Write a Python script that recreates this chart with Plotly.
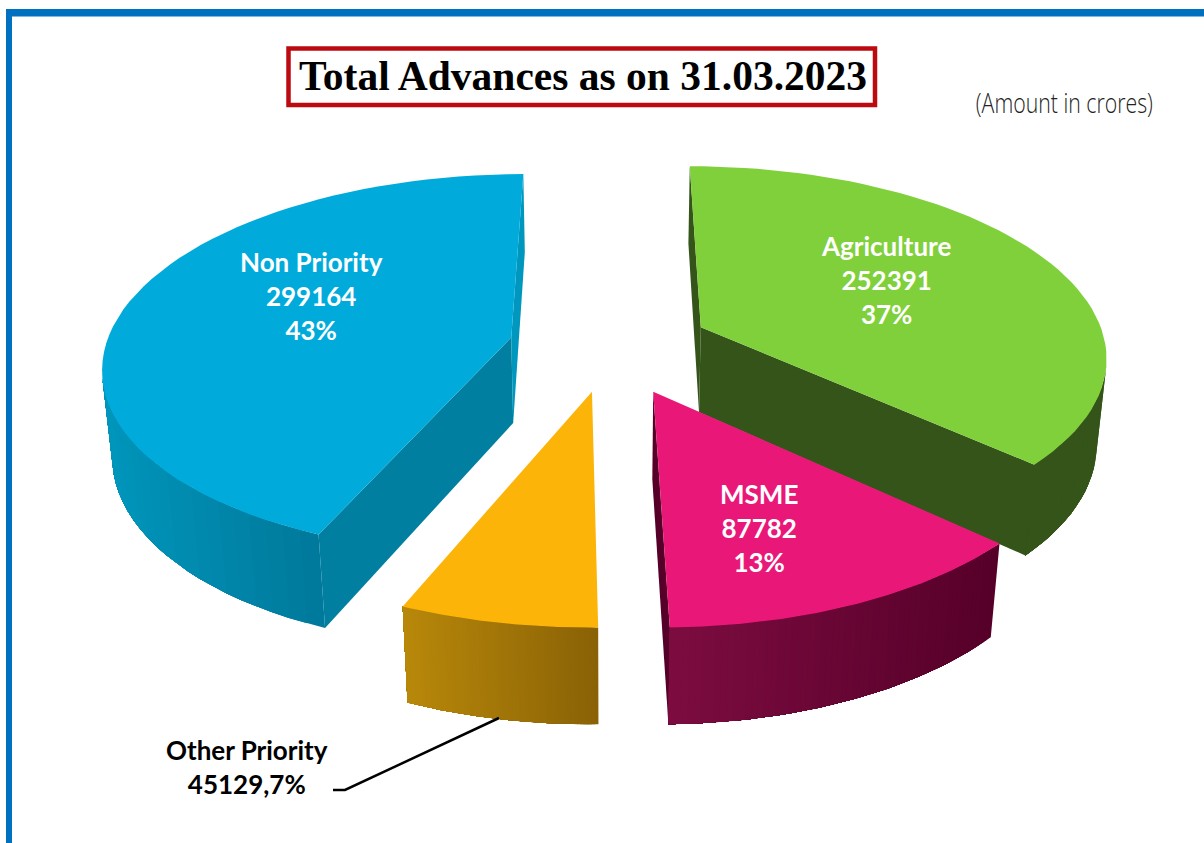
import math
import plotly.graph_objects as go

# ---- data ----
categories = ["Agriculture", "MSME", "Other Priority", "Non Priority"]
values = [252391, 87782, 45129, 299164]
percents = [37, 13, 7, 43]
title_text = "Total Advances as on 31.03.2023"
unit_text = "(Amount in crores)"

# ---- style ----
TOP = ["#7FD03B", "#E91778", "#FDB409", "#00ABDB"]
WALL_L = ["#35541A", "#7C0C40", "#B8880A", "#0096BC"]
WALL_R = ["#35541A", "#560029", "#8A6206", "#007A9C"]
FACE_START = ["#35541A", "#560029", "#8A6206", "#007FA0"]
FACE_END = ["#35541A", "#560029", "#8A6206", "#0097BE"]
EXPLODE = [(0.227, -0.09), (0.103, 0.245), (-0.043, 0.245), (-0.245, -0.035)]
DRAW_ORDER = [0, 3, 2, 1]
CX, CY, A, B, K, H, M = 610, 344, 405, 188, 0.14, 87.5, 0.02


def project(u, v, z):
    w = 1 - K * v + M * z
    return CX + A * u / w, CY + (B * v + H * z) / w


def hex_mix(c1, c2, t):
    a = [int(c1[i:i + 2], 16) for i in (1, 3, 5)]
    b = [int(c2[i:i + 2], 16) for i in (1, 3, 5)]
    return "#%02x%02x%02x" % tuple(round(p + (q - p) * t) for p, q in zip(a, b))


def poly(fig, pts, colour):
    xs = [p[0] for p in pts] + [pts[0][0]]
    ys = [p[1] for p in pts] + [pts[0][1]]
    fig.add_trace(go.Scatter(x=xs, y=ys, mode="lines", fill="toself", fillcolor=colour,
                             line=dict(color=colour, width=0), hoverinfo="skip",
                             showlegend=False))


def area(p):
    return sum(p[i][0] * p[(i + 1) % len(p)][1] - p[(i + 1) % len(p)][0] * p[i][1]
               for i in range(len(p)))


fig = go.Figure()
total = sum(values)
angles = [0.0]
for val in values:
    angles.append(angles[-1] + 360 * val / total)

for i in DRAW_ORDER:
    du, dv = EXPLODE[i]
    t0, t1 = angles[i], angles[i + 1]
    n = 60
    arc = [math.radians(t0 + (t1 - t0) * j / n) for j in range(n + 1)]
    rim = [(du + math.sin(t), dv - math.cos(t)) for t in arc]
    apex = (du, dv)

    # cut faces
    for a_, b_, col in ((apex, rim[0], FACE_START[i]), (rim[-1], apex, FACE_END[i])):
        q = [project(*a_, 0), project(*b_, 0), project(*b_, 1), project(*a_, 1)]
        if area(q) < 0:
            poly(fig, q, col)

    # curved wall: painted as a stack, each layer reaching to the far end, so no seams show
    seg = [j for j in range(n)
           if area([project(*rim[j], 0), project(*rim[j + 1], 0),
                    project(*rim[j + 1], 1), project(*rim[j], 1)]) < 0]
    if seg:
        xs = [project(*rim[j], 0)[0] for j in seg]
        lo, hi = min(xs), max(xs)
        last = seg[-1] + 1
        for j in seg:
            top_edge = [project(*rim[m], 0) for m in range(j, last + 1)]
            bot_edge = [project(*rim[m], 1) for m in range(last, j - 1, -1)]
            t = (project(*rim[j], 0)[0] - lo) / max(hi - lo, 1)
            poly(fig, top_edge + bot_edge, hex_mix(WALL_L[i], WALL_R[i], t))

    # top
    poly(fig, [project(*apex, 0)] + [project(*p, 0) for p in rim], TOP[i])

# leader line
fig.add_trace(go.Scatter(x=[333, 345, 499], y=[790, 790, 718], mode="lines",
                         line=dict(color="#000000", width=2.5), hoverinfo="skip", showlegend=False))

LABEL_POS = [(886, 280), (759, 528), (247, 767), (311, 296)]
LABEL_FONT = "Lato"
for i, cat in enumerate(categories):
    if i == 2:
        text = f"<b>{cat}<br>{values[i]},{percents[i]}%</b>"
        colour, size = "#000000", 26
    else:
        text = f"<b>{cat}<br>{values[i]}<br>{percents[i]}%</b>"
        colour, size = "#FFFFFF", 26
    fig.add_annotation(x=LABEL_POS[i][0], y=LABEL_POS[i][1], xref="x", yref="y", text=text,
                       showarrow=False, align="center",
                       font=dict(family=LABEL_FONT, size=size, color=colour))

fig.add_annotation(x=583, y=76, xref="x", yref="y", text=f"<b>{title_text}</b>", showarrow=False,
                   font=dict(family="Liberation Serif", size=41.5, color="#000000"))
fig.add_annotation(x=1064, y=102, xref="x", yref="y", text=unit_text, showarrow=False,
                   font=dict(family="Open Sans", size=27, color="#222222", weight=300))

fig.update_layout(
    width=1204, height=843, margin=dict(l=0, r=0, t=0, b=0),
    paper_bgcolor="#FFFFFF", plot_bgcolor="#FFFFFF", showlegend=False,
    xaxis=dict(range=[0, 1204], visible=False, fixedrange=True),
    yaxis=dict(range=[843, 0], visible=False, fixedrange=True),
    shapes=[
        dict(type="rect", x0=6, x1=1204, y0=9, y1=16.5, fillcolor="#0070C0", line_width=0, layer="below"),
        dict(type="rect", x0=6, x1=12, y0=9, y1=843, fillcolor="#0070C0", line_width=0, layer="below"),
        dict(type="rect", x0=288.5, x1=875, y0=48.5, y1=105, fillcolor="#FFFFFF",
             line=dict(color="#BC0A10", width=4.5), layer="below"),
    ],
)
squash = """
document.body.style.margin='0';document.body.style.overflow='hidden';
document.querySelectorAll('text.annotation-text').forEach(function(t){
  if(t.textContent.indexOf('Amount')>=0){t.setAttribute('textLength','177');t.setAttribute('lengthAdjust','spacingAndGlyphs');}
});
"""
fig.write_html("out.html", config={"displayModeBar": False}, post_script=squash)
